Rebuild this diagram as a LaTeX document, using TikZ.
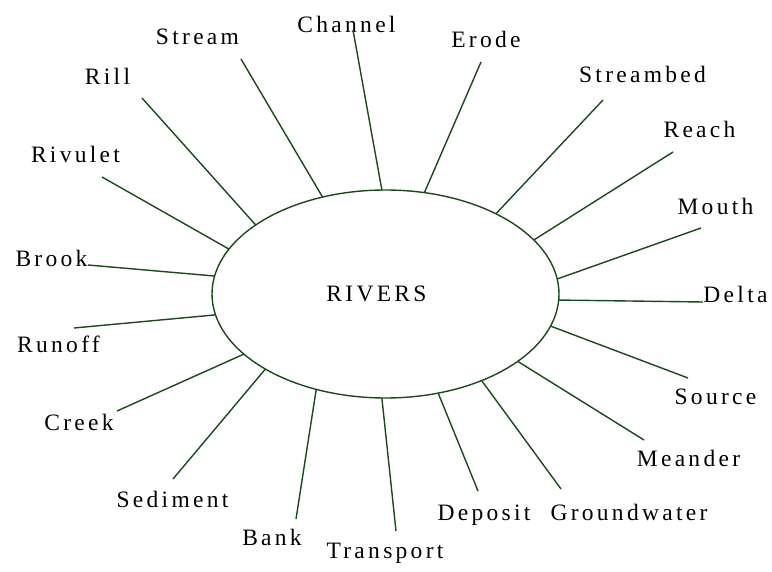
\documentclass[tikz,border=0pt]{standalone}
\usepackage{fontspec}
\setmainfont{Liberation Serif}[LetterSpace=14]
\usetikzlibrary{shapes.geometric}
\definecolor{riverline}{RGB}{25,75,25}
\tikzset{
  lbl/.style={anchor=base, inner sep=0pt, font=\fontsize{23.5}{26}\selectfont, text=black},
  spoke/.style={draw=riverline, line width=1.4pt},
  hub/.style={ellipse, draw=riverline, line width=1.4pt, minimum width=347pt, minimum height=208pt, inner sep=0pt, outer sep=0pt}
}
\begin{document}
\begin{tikzpicture}[x=1pt,y=-1pt]
\useasboundingbox (0,0) rectangle (772,572);
\node[hub] (riv) at (385.5,294) {};
\node[lbl] (rivtext) at (376.5,302) {RIVERS};

% labels
\node[lbl] (lStream) at (197.5,45) {Stream};
\node[lbl] (lChannel) at (346.5,33) {Channel};
\node[lbl] (lErode) at (486,48) {Erode};
\node[lbl] (lStreambed) at (642.5,83) {Streambed};
\node[lbl] (lReach) at (699.5,138) {Reach};
\node[lbl] (lMouth) at (715.5,215) {Mouth};
\node[lbl] (lDelta) at (735.5,303) {Delta};
\node[lbl] (lSource) at (715.5,404) {Source};
\node[lbl] (lMeander) at (688.5,466) {Meander};
\node[lbl] (lGroundwater) at (629,520) {Groundwater};
\node[lbl] (lDeposit) at (484,520) {Deposit};
\node[lbl] (lTransport) at (385,558) {Transport};
\node[lbl] (lBank) at (272,545) {Bank};
\node[lbl] (lSediment) at (172.5,507) {Sediment};
\node[lbl] (lCreek) at (79,430) {Creek};
\node[lbl] (lRunoff) at (58.5,353) {Runoff};
\node[lbl] (lBrook) at (51.5,267) {Brook};
\node[lbl] (lRivulet) at (75.5,163) {Rivulet};
\node[lbl] (lRill) at (107.5,85) {Rill};

% free ends of spokes
\coordinate (eChannel) at (353,30);
\coordinate (eStream) at (241,59);
\coordinate (eRill) at (142,98);
\coordinate (eRivulet) at (102,177);
\coordinate (eBrook) at (88,265);
\coordinate (eErode) at (481,62);
\coordinate (eStreambed) at (603,100);
\coordinate (eReach) at (673,152);
\coordinate (eMouth) at (701,228);
\coordinate (eDelta) at (703,302);
\coordinate (eSource) at (688,378);
\coordinate (eMeander) at (644,440);
\coordinate (eGroundwater) at (561,489);
\coordinate (eDeposit) at (478,491);
\coordinate (eTransport) at (396,531);
\coordinate (eBank) at (296,519);
\coordinate (eSediment) at (173,479);
\coordinate (eCreek) at (117,411);
\coordinate (eRunoff) at (74,328);

% spokes
\draw[spoke] (riv.92.9) -- (eChannel);
\draw[spoke] (riv.123.6) -- (eStream);
\draw[spoke] (riv.152.5) -- (eRill);
\draw[spoke] (riv.164.8) -- (eRivulet);
\draw[spoke] (riv.174.4) -- (eBrook);
\draw[spoke] (riv.69.7) -- (eErode);
\draw[spoke] (riv.36.6) -- (eStreambed);
\draw[spoke] (riv.20.4) -- (eReach);
\draw[spoke] (riv.5.5) -- (eMouth);
\draw[spoke] (riv.-2.6) -- (eDelta);
\draw[spoke] (riv.-11.7) -- (eSource);
\draw[spoke] (riv.-27.7) -- (eMeander);
\draw[spoke] (riv.-42.3) -- (eGroundwater);
\draw[spoke] (riv.-62.1) -- (eDeposit);
\draw[spoke] (riv.-92.0) -- (eTransport);
\draw[spoke] (riv.-126.9) -- (eBank);
\draw[spoke] (riv.-148) -- (eSediment);
\draw[spoke] (riv.-157.4) -- (eCreek);
\draw[spoke] (riv.-173.4) -- (eRunoff);
\end{tikzpicture}
\end{document}
